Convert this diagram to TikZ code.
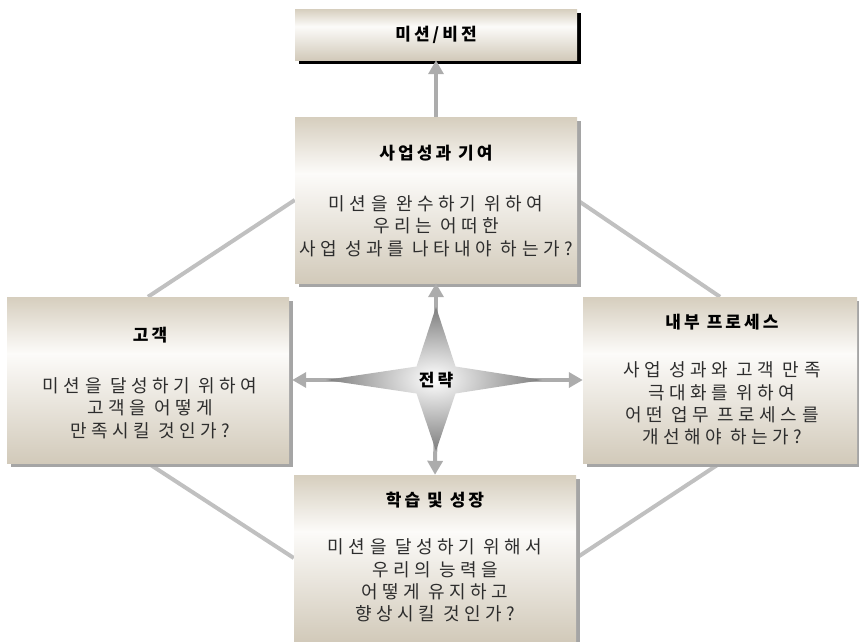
\documentclass[tikz,border=0pt]{standalone}
\usepackage{fontspec}
\setmainfont{Noto Sans CJK KR}
\newfontfamily\krfont[LetterSpace=25]{Noto Sans CJK KR}
\newfontfamily\krtitle[LetterSpace=18]{Noto Sans CJK KR}
\usetikzlibrary{arrows.meta,shadings,shadows,backgrounds}

\definecolor{beigeT}{RGB}{214,206,190}
\definecolor{beigeB}{RGB}{210,202,186}
\definecolor{beigeM}{RGB}{252,251,249}
\definecolor{linegray}{RGB}{192,192,192}
\definecolor{arrowgray}{RGB}{172,172,172}
\definecolor{shadowgray}{RGB}{165,165,165}
\definecolor{bodytext}{RGB}{45,45,45}
\definecolor{starout}{RGB}{125,125,125}

\pgfdeclareverticalshading{boxshade}{100bp}{color(0bp)=(beigeB); color(25bp)=(beigeB); color(58bp)=(beigeM); color(75bp)=(beigeT); color(100bp)=(beigeT)}

\tikzset{
  panel/.style={shade, shading=boxshade, minimum width=282pt, minimum height=166pt, inner sep=0pt},
  grayshadow/.style={general shadow={fill=shadowgray, shadow xshift=3.5pt, shadow yshift=-3.5pt}},
  blackshadow/.style={general shadow={fill=black, shadow xshift=4pt, shadow yshift=-4pt}},
  titletext/.style={font=\krtitle\bfseries\fontsize{17}{20}\selectfont, text=black, inner sep=0pt},
  bodytxt/.style={font=\krfont\fontsize{18}{22.3}\selectfont, text=bodytext, align=center, inner sep=0pt},
  link/.style={draw=linegray, line width=4pt},
  arr/.style={draw=arrowgray, line width=4pt, -{Triangle[width=15pt,length=14pt]}}
}

\begin{document}
\begin{tikzpicture}[x=1pt,y=-1pt]
\path[use as bounding box, clip] (0,0) rectangle (859,641);

% boxes
\node[panel, blackshadow, minimum height=51pt] (vision) at (436,34.5) {};
\node[panel, grayshadow] (biz) at (436,200) {};
\node[panel, grayshadow] (cust) at (148,380) {};
\node[panel, grayshadow, minimum width=274pt] (proc) at (720,380) {};
\node[panel, grayshadow] (learn) at (435,558) {};

% connecting lines behind boxes
\begin{scope}[on background layer]
\draw[link] (cust.north) -- (biz.west);
\draw[link] (biz.east) -- (proc.north);
\draw[link] (cust.south) -- (learn.west);
\draw[link] (proc.south) -- (learn.east);
\end{scope}

% texts
\node[titletext] (visionT) at (436,34.5) {미션/비전};
\node[titletext] (bizT) at (436,153) {사업성과 기여};
\node[bodytxt] (bizB) at (436,226) {미션을 완수하기 위하여\\우리는 어떠한\\사업 성과를 나타내야 하는가?};
\node[titletext] (custT) at (150,335) {고객};
\node[bodytxt] (custB) at (150,408) {미션을 달성하기 위하여\\고객을 어떻게\\만족시킬 것인가?};
\node[titletext] (procT) at (722,322) {내부 프로세스};
\node[bodytxt] (procB) at (722,403.5) {사업 성과와 고객 만족\\극대화를 위하여\\어떤 업무 프로세스를\\개선해야 하는가?};
\node[titletext] (learnT) at (435,500) {학습 및 성장};
\node[bodytxt] (learnB) at (435,580.5) {미션을 달성하기 위해서\\우리의 능력을\\어떻게 유지하고\\향상시킬 것인가?};

% arrows
\coordinate (c) at (436,380);
\draw[arr] (biz.north) -- (vision.south);
\draw[arr] (c) -- (biz.south);
\draw[arr] (c) -- (learn.north);
\draw[arr] (c) -- ([xshift=3pt]cust.east);
\draw[arr] (c) -- (proc.west);

% star
\path[shade, inner color=white, outer color=starout]
  (436,307) -- (455.5,366.5) -- (542,380) -- (455.5,393.5) -- (436,451)
  -- (416.5,393.5) -- (326,380) -- (416.5,366.5) -- cycle;
\node[titletext] (strat) at (436,380) {전략};
\end{tikzpicture}
\end{document}
